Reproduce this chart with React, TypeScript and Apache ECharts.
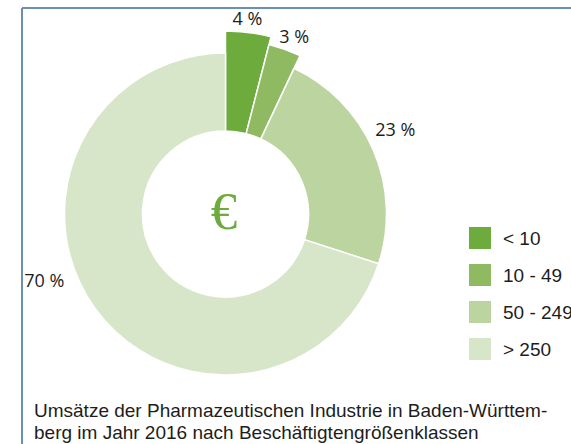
import React, { useEffect, useRef } from "react";
import * as echarts from "echarts";

const categories = ["< 10", "10 - 49", "50 - 249", "> 250"];
const shares = [4, 3, 23, 70];
const labels = ["4 %", "3 %", "23 %", "70 %"];
const colors = ["#6dab3d", "#8fba62", "#bcd5a0", "#d7e6c8"];
const outerRadii = [183, 175, 161, 161];
// label shifts from the slice's inner label spot
const labelShift = [
  [5, -61],
  [24, -54],
  [55, -35],
  [-80, -7],
];
const caption = [
  "Umsätze der Pharmazeutischen Industrie in Baden-Württem-",
  "berg im Jahr 2016 nach Beschäftigtengrößenklassen",
];

export default function App() {
  const ref = useRef<HTMLDivElement>(null);
  useEffect(() => {
    if (!ref.current) return;
    const chart = echarts.init(ref.current, null, { renderer: "svg" });
    const center = [225.5, 214];
    const series = shares.map((v, i) => {
      const before = shares.slice(0, i).reduce((a, b) => a + b, 0);
      const after = shares.slice(i + 1).reduce((a, b) => a + b, 0);
      const data: any[] = [];
      if (before > 0)
        data.push({
          value: before,
          name: "_pre" + i,
          itemStyle: { color: "rgba(0,0,0,0)", borderWidth: 0 },
          label: { show: false },
        });
      data.push({
        value: v,
        name: categories[i],
        itemStyle: { color: colors[i], borderColor: "#ffffff", borderWidth: 1.5 },
        label: {
          show: true,
          position: "inside",
          formatter: labels[i],
          color: "#1d1d1b",
          fontFamily: "Open Sans",
          fontSize: 18,
        },
      });
      if (after > 0)
        data.push({
          value: after,
          name: "_post" + i,
          itemStyle: { color: "rgba(0,0,0,0)", borderWidth: 0 },
          label: { show: false },
        });
      return {
        type: "pie",
        center,
        radius: [83, outerRadii[i]],
        startAngle: 90,
        clockwise: true,
        silent: true,
        avoidLabelOverlap: false,
        labelLine: { show: false },
        labelLayout: { dx: labelShift[i][0], dy: labelShift[i][1] },
        emphasis: { disabled: true },
        data,
      };
    });
    chart.setOption({
      animation: false,
      legend: {
        data: categories,
        orient: "vertical",
        left: 462,
        top: 220,
        itemWidth: 24,
        itemHeight: 24,
        itemGap: 11,
        icon: "rect",
        selectedMode: false,
        textStyle: {
          fontFamily: "Liberation Sans",
          fontSize: 19,
          color: "#1d1d1b",
          padding: [0, 0, 0, 6],
        },
      },
      graphic: [
        {
          type: "line",
          shape: { x1: 22, y1: 8, x2: 571, y2: 8 },
          style: { stroke: "#6b8fb4", lineWidth: 2 },
        },
        {
          type: "line",
          shape: { x1: 22, y1: 8, x2: 22, y2: 444 },
          style: { stroke: "#6b8fb4", lineWidth: 2 },
        },
        {
          type: "text",
          x: 224,
          y: 211,
          style: {
            text: "€",
            fontFamily: "Liberation Serif",
            fontSize: 53,
            fill: "#6dab3d",
            align: "center",
            verticalAlign: "middle",
          },
        },
        {
          type: "text",
          x: 34,
          y: 410,
          style: {
            text: caption[0],
            fontFamily: "Liberation Sans",
            fontSize: 19,
            fill: "#1d1d1b",
            verticalAlign: "middle",
          },
        },
        {
          type: "text",
          x: 34,
          y: 432,
          style: {
            text: caption[1],
            fontFamily: "Liberation Sans",
            fontSize: 19,
            fill: "#1d1d1b",
            verticalAlign: "middle",
          },
        },
      ],
      series,
    });
    return () => chart.dispose();
  }, []);
  return (
    <div
      ref={ref}
      style={{ position: "fixed", left: 0, top: 0, width: 571, height: 444, background: "#ffffff" }}
    />
  );
}
